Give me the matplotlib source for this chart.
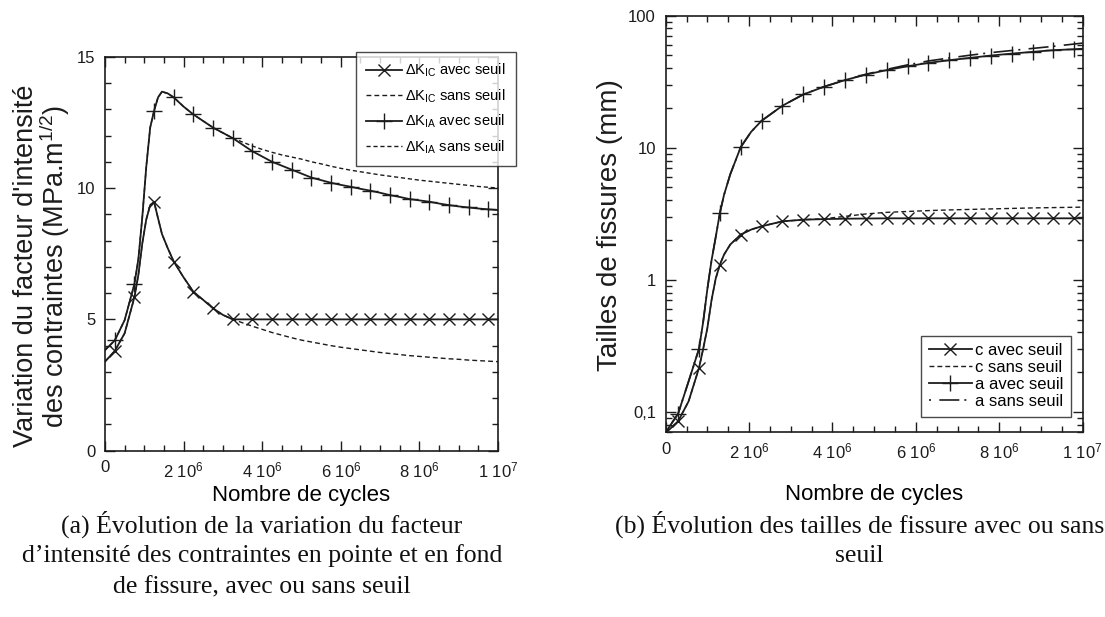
import matplotlib
matplotlib.use("Agg")
import matplotlib.pyplot as plt
import numpy as np
from matplotlib.ticker import FixedLocator, NullFormatter

plt.rcParams['font.family'] = ['Liberation Sans', 'DejaVu Sans']
plt.rcParams['mathtext.fontset'] = 'custom'
plt.rcParams['mathtext.rm'] = 'Liberation Sans'
plt.rcParams['mathtext.it'] = 'Liberation Sans:italic'
plt.rcParams['mathtext.bf'] = 'Liberation Sans:bold'

# ---- (a) stress intensity factor range, x in millions of cycles
xa = [0, 0.25, 0.5, 0.75, 0.85, 0.95, 1.05, 1.15, 1.25, 1.35, 1.45, 1.6, 1.75, 2.0,
      2.25, 2.5, 2.75, 3.0, 3.25, 3.5, 3.75, 4.0, 4.25, 4.5, 4.75, 5.0, 5.25, 5.5,
      5.75, 6.0, 6.25, 6.5, 6.75, 7.0, 7.25, 7.5, 7.75, 8.0, 8.25, 8.5, 8.75, 9.0,
      9.25, 9.5, 9.75, 10.0]
kic_avec = [3.39, 3.8, 4.47, 5.85, 6.7, 7.9, 8.8, 9.35, 9.47, 8.85, 8.25, 7.7, 7.2, 6.6,
            6.05, 5.74, 5.42, 5.17, 5.0, 5.0, 5.0, 5.0, 5.0, 5.0, 5.0, 5.0, 5.0, 5.0,
            5.0, 5.0, 5.0, 5.0, 5.0, 5.0, 5.0, 5.0, 5.0, 5.0, 5.0, 5.0, 5.0, 5.0,
            5.0, 5.0, 5.0, 5.0]
kic_sans = [3.39, 3.8, 4.47, 5.85, 6.7, 7.9, 8.8, 9.35, 9.47, 8.85, 8.25, 7.7, 7.2, 6.6,
            6.05, 5.74, 5.42, 5.17, 5.0, 4.87, 4.74, 4.62, 4.5, 4.4, 4.3, 4.21, 4.14, 4.07,
            4.0, 3.94, 3.89, 3.84, 3.79, 3.74, 3.7, 3.66, 3.62, 3.59, 3.56, 3.53, 3.5, 3.48,
            3.45, 3.43, 3.41, 3.39]
kia_avec = [3.83, 4.2, 4.97, 6.35, 7.3, 8.9, 10.8, 12.3, 12.95, 13.45, 13.67, 13.6, 13.45, 13.1,
            12.8, 12.55, 12.3, 12.1, 11.9, 11.65, 11.4, 11.2, 11.0, 10.85, 10.7, 10.55, 10.4, 10.3,
            10.2, 10.12, 10.05, 9.97, 9.9, 9.82, 9.73, 9.66, 9.58, 9.53, 9.48, 9.41, 9.35, 9.3,
            9.26, 9.22, 9.19, 9.16]
kia_sans = [3.83, 4.2, 4.97, 6.35, 7.3, 8.9, 10.8, 12.3, 12.95, 13.45, 13.67, 13.6, 13.45, 13.1,
            12.8, 12.55, 12.3, 12.1, 11.9, 11.75, 11.6, 11.47, 11.36, 11.26, 11.18, 11.1, 11.0, 10.92,
            10.83, 10.75, 10.68, 10.62, 10.56, 10.5, 10.45, 10.4, 10.35, 10.3, 10.26, 10.22, 10.18, 10.14,
            10.1, 10.06, 10.03, 10.0]
marks_a = [0.25, 0.75, 1.25, 1.75, 2.25, 2.75, 3.25, 3.75, 4.25, 4.75, 5.25, 5.75,
           6.25, 6.75, 7.25, 7.75, 8.25, 8.75, 9.25, 9.75]

# ---- (b) crack sizes (mm)
xb = [0, 0.1, 0.3, 0.55, 0.8, 0.9, 1.0, 1.1, 1.2, 1.3, 1.4, 1.55, 1.8, 2.05, 2.3,
      2.8, 3.3, 3.8, 4.3, 4.8, 5.3, 5.8, 6.3, 6.8, 7.3, 7.8, 8.3, 8.8, 9.3, 9.8, 10.0]
c_avec = [0.07, 0.074, 0.085, 0.12, 0.215, 0.3, 0.43, 0.7, 1.02, 1.3, 1.55, 1.85, 2.2, 2.4, 2.54,
          2.77, 2.85, 2.88, 2.9, 2.91, 2.92, 2.92, 2.92, 2.92, 2.92, 2.92, 2.92, 2.92, 2.92, 2.92, 2.92]
c_sans = [0.07, 0.074, 0.085, 0.12, 0.215, 0.3, 0.43, 0.7, 1.02, 1.3, 1.55, 1.85, 2.2, 2.4, 2.54,
          2.77, 2.85, 2.9, 3.02, 3.15, 3.24, 3.29, 3.34, 3.38, 3.41, 3.44, 3.47, 3.5, 3.52, 3.54, 3.55]
a_avec = [0.07, 0.078, 0.097, 0.17, 0.3, 0.48, 0.85, 1.4, 2.1, 3.2, 4.4, 6.3, 10.1, 13.2, 16.0,
          20.8, 25.3, 29.0, 32.5, 35.8, 38.7, 41.4, 43.9, 46.0, 47.9, 49.9, 51.6, 53.2, 54.8, 55.7, 56.2]
a_sans = [0.07, 0.078, 0.097, 0.17, 0.3, 0.48, 0.85, 1.4, 2.1, 3.2, 4.4, 6.3, 10.1, 13.2, 16.0,
          20.8, 25.3, 29.0, 32.5, 36.0, 39.2, 42.4, 45.4, 47.8, 50.2, 52.5, 54.5, 56.5, 58.6, 61.0, 62.0]
marks_b = [0.3, 0.8, 1.3, 1.8, 2.3, 2.8, 3.3, 3.8, 4.3, 4.8, 5.3, 5.8, 6.3, 6.8,
           7.3, 7.8, 8.3, 8.8, 9.3, 9.8]

xtick_vals = [0, 2e6, 4e6, 6e6, 8e6, 1e7]
xtick_labels = ['0', '2 10$^{6}$', '4 10$^{6}$', '6 10$^{6}$', '8 10$^{6}$', '1 10$^{7}$']

col = '#1c1c1c'


def mark_idx(xs, marks):
    xs = np.round(np.asarray(xs), 3)
    return [i for i, v in enumerate(xs) if v in np.round(marks, 3)]


def style_axes(ax):
    ax.tick_params(which='both', direction='in', top=True, right=True, colors=col,
                   labelsize=12, width=1.0)
    ax.tick_params(which='major', length=7, pad=7)
    ax.tick_params(which='minor', length=4)
    for s in ax.spines.values():
        s.set_linewidth(1.2)
        s.set_color(col)
    ax.set_xlim(0, 1e7)
    ax.set_xticks(xtick_vals)
    ax.set_xticklabels(xtick_labels)
    ax.xaxis.set_minor_locator(FixedLocator(np.arange(0, 1e7 + 1, 5e5)))


fig = plt.figure(figsize=(11.05, 6.17), dpi=100)

# ---------------- left
ax1 = fig.add_axes([0.095, 0.2695, 0.3557, 0.6386])
xa_c = np.array(xa) * 1e6
ia = mark_idx(xa, marks_a)
dash = (0, (3.5, 2.2))
ax1.plot(xa_c, kic_avec, color=col, lw=1.3, marker='x', ms=8, mew=1.0,
         markevery=ia, label=r'$\Delta$K$_{\mathrm{IC}}$ avec seuil')
ax1.plot(xa_c, kic_sans, color=col, lw=1.0, ls=dash,
         label=r'$\Delta$K$_{\mathrm{IC}}$ sans seuil')
ax1.plot(xa_c, kia_avec, color=col, lw=1.3, marker='+', ms=11, mew=1.0,
         markevery=ia, label=r'$\Delta$K$_{\mathrm{IA}}$ avec seuil')
ax1.plot(xa_c, kia_sans, color=col, lw=1.0, ls=(0, (3.0, 2.0)),
         label=r'$\Delta$K$_{\mathrm{IA}}$ sans seuil')
style_axes(ax1)
ax1.set_ylim(0, 15)
ax1.set_yticks([0, 5, 10, 15])
ax1.yaxis.set_minor_locator(FixedLocator(np.arange(0, 15.1, 1)))
ax1.set_xlabel('Nombre de cycles', fontsize=16, labelpad=3)
fig.text(42.5 / 1105, 1 - 266 / 617,
         "Variation du facteur d'intensité\ndes contraintes (MPa.m$^{1/2}$)",
         fontsize=19.5, rotation=90, ha='center', va='center', ma='center',
         linespacing=0.92, color=col)
leg1 = ax1.legend(loc='upper left', bbox_to_anchor=(0.322, 0.916),
                  bbox_transform=fig.transFigure, fontsize=10.5, frameon=True,
                  fancybox=False, edgecolor=col, handlelength=2.5, handletextpad=0.2,
                  labelspacing=0.55, borderaxespad=0, borderpad=0.7)
leg1.get_frame().set_linewidth(1.0)

# ---------------- right
ax2 = fig.add_axes([0.6024, 0.2994, 0.3774, 0.6752])
xb_c = np.array(xb) * 1e6
ib = mark_idx(xb, marks_b)
ax2.plot(xb_c, c_avec, color=col, lw=1.3, marker='x', ms=8, mew=1.0,
         markevery=ib, label='c avec seuil')
ax2.plot(xb_c, c_sans, color=col, lw=1.0, ls=dash, label='c sans seuil')
ax2.plot(xb_c, a_avec, color=col, lw=1.3, marker='+', ms=11, mew=1.0,
         markevery=ib, label='a avec seuil')
ax2.plot(xb_c, a_sans, color=col, lw=1.2, ls=(0, (1.2, 5, 12, 3)), label='a sans seuil')
ax2.set_yscale('log')
style_axes(ax2)
ax2.set_ylim(0.07, 100)
ax2.set_yticks([0.1, 1, 10, 100])
ax2.set_yticklabels(['0,1', '1', '10', '100'])
ax2.yaxis.set_minor_locator(FixedLocator(
    [m * d for d in [0.01, 0.1, 1, 10] for m in range(2, 10) if 0.07 <= m * d <= 100]))
ax2.yaxis.set_minor_formatter(NullFormatter())
ax2.set_xlabel('Nombre de cycles', fontsize=16, labelpad=16)
fig.text(610 / 1105, 1 - 225 / 617, 'Tailles de fissures (mm)', fontsize=20,
         rotation=90, ha='center', va='center', color=col)
leg2 = ax2.legend(loc='upper left', bbox_to_anchor=(0.8335, 0.456),
                  bbox_transform=fig.transFigure, fontsize=12, frameon=True,
                  fancybox=False, edgecolor=col, handlelength=2.6, handletextpad=0.2,
                  labelspacing=0.12, borderaxespad=0, borderpad=0.45)
leg2.get_frame().set_linewidth(1.0)

# ---------------- captions
cap = dict(family=['Liberation Serif', 'DejaVu Serif'], fontsize=18.5, ha='center',
           va='center', color='#111111')
fig.text(0.237, 1 - 524 / 617, '(a) Évolution de la variation du facteur', **cap)
fig.text(0.237, 1 - 556 / 617, 'd\u2019intensité des contraintes en pointe et en fond', **cap)
fig.text(0.237, 1 - 587 / 617, 'de fissure, avec ou sans seuil', **cap)
fig.text(0.7775, 1 - 524 / 617, '(b) Évolution des tailles de fissure avec ou sans', **cap)
fig.text(0.7775, 1 - 556 / 617, 'seuil', **cap)

fig.savefig('out.png', dpi=100)
